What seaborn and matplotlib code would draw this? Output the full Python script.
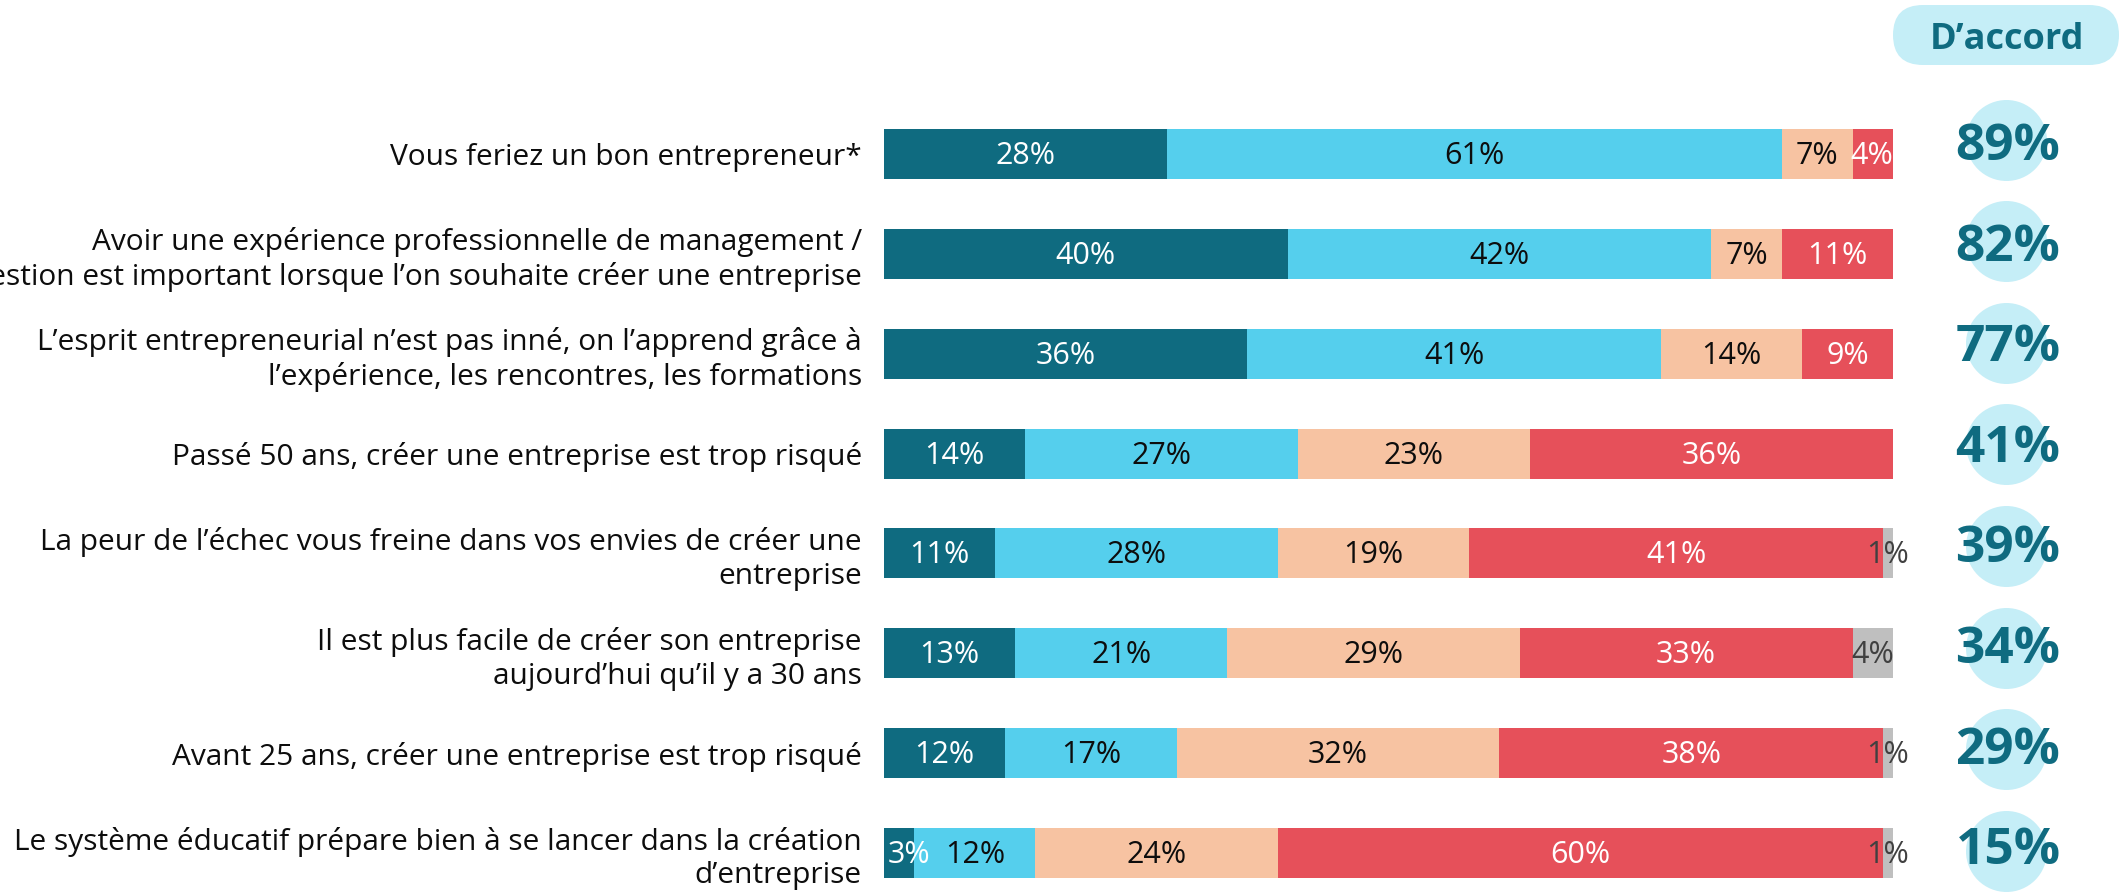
import numpy as np
import matplotlib
matplotlib.use("Agg")
import matplotlib.pyplot as plt
import seaborn as sns
from matplotlib.patches import FancyBboxPatch

statements = [
    "Vous feriez un bon entrepreneur*",
    "Avoir une expérience professionnelle de management /\ngestion est important lorsque l’on souhaite créer une entreprise",
    "L’esprit entrepreneurial n’est pas inné, on l’apprend grâce à\nl’expérience, les rencontres, les formations",
    "Passé 50 ans, créer une entreprise est trop risqué",
    "La peur de l’échec vous freine dans vos envies de créer une\nentreprise",
    "Il est plus facile de créer son entreprise\naujourd’hui qu’il y a 30 ans",
    "Avant 25 ans, créer une entreprise est trop risqué",
    "Le système éducatif prépare bien à se lancer dans la création\nd’entreprise",
]
tout_a_fait = [28, 40, 36, 14, 11, 13, 12, 3]
plutot_oui = [61, 42, 41, 27, 28, 21, 17, 12]
plutot_non = [7, 7, 14, 23, 19, 29, 32, 24]
pas_du_tout = [4, 11, 9, 36, 41, 33, 38, 60]
nsp = [0, 0, 0, 0, 1, 4, 1, 1]
total_accord = [89, 82, 77, 41, 39, 34, 29, 15]
header = "D’accord"

seg_colors = ["#0F6B80", "#55CFED", "#F7C3A2", "#E6505A", "#BFBFBF"]
seg_text = ["white", "#0d0d0d", "#0d0d0d", "white", "#404040"]
teal = "#0F6B80"
pale = "#C5EEF7"

sns.set_theme(style="white")
plt.rcParams["font.family"] = ["Open Sans", "DejaVu Sans"]

W, H = 2126, 894
fig = plt.figure(figsize=(W / 100, H / 100), dpi=100)

# overlay in pixel units for the right-hand column
ax2 = fig.add_axes([0, 0, 1, 1], zorder=0)
ax2.set_xlim(0, W)
ax2.set_ylim(H, 0)
ax2.axis("off")

ax = fig.add_axes([884 / W, 0, (1893 - 884) / W, 1], zorder=1)
ax.patch.set_alpha(0)

values = np.array([tout_a_fait, plutot_oui, plutot_non, pas_du_tout, nsp], dtype=float)
cum = values.cumsum(axis=0)

# stacked bars: draw cumulative totals from the outer segment inward
for k in range(len(values) - 1, -1, -1):
    sns.barplot(x=cum[k], y=statements, orient="h", color=seg_colors[k],
                saturation=1, width=0.5, linewidth=0, ax=ax)

label_fs = 22
half_w = 2.2  # approx. half width of a two-character label, in % units
for i in range(len(statements)):
    for k in range(len(values)):
        v = values[k][i]
        if v <= 0:
            continue
        x, ha = cum[k][i] - v / 2, "center"
        if k < 4:
            # keep short labels inside the bar's overall extent
            if x - half_w < 0:
                x, ha = 0.4, "left"
            elif x + half_w > 100:
                x, ha = 100, "right"
        ax.text(x, i + 0.02, f"{int(v)}%", ha=ha, va="center",
                color=seg_text[k], fontsize=label_fs)

ax.set_xlim(0, 100)
ax.set_ylim(7.410, -1.542)
ax.set_xlabel("")
ax.set_ylabel("")
ax.set_xticks([])
ax.tick_params(axis="y", length=0, pad=16, labelsize=21.5, labelcolor="#0d0d0d")
for s in ax.spines.values():
    s.set_visible(False)

# "D'accord" column
rows = np.arange(len(total_accord))
circle_y = 139.5 + 101.6 * rows
text_y = 147 + 100.6 * rows
sns.scatterplot(x=[2006] * len(rows), y=circle_y, s=3400, color=pale,
                linewidth=0, ax=ax2, legend=False)
for i, t in enumerate(total_accord):
    ax2.text(2008, text_y[i], f"{t}%", ha="center", va="center",
             fontsize=37, fontweight="bold", color=teal)

badge = FancyBboxPatch((1893, 5), 226, 60, boxstyle="round,pad=0,rounding_size=30",
                       facecolor=pale, edgecolor="none")
ax2.add_patch(badge)
ax2.text(2007, 40, header, ha="center", va="center", fontsize=26,
         fontweight="bold", color=teal)

fig.savefig("out.png", dpi=100)
